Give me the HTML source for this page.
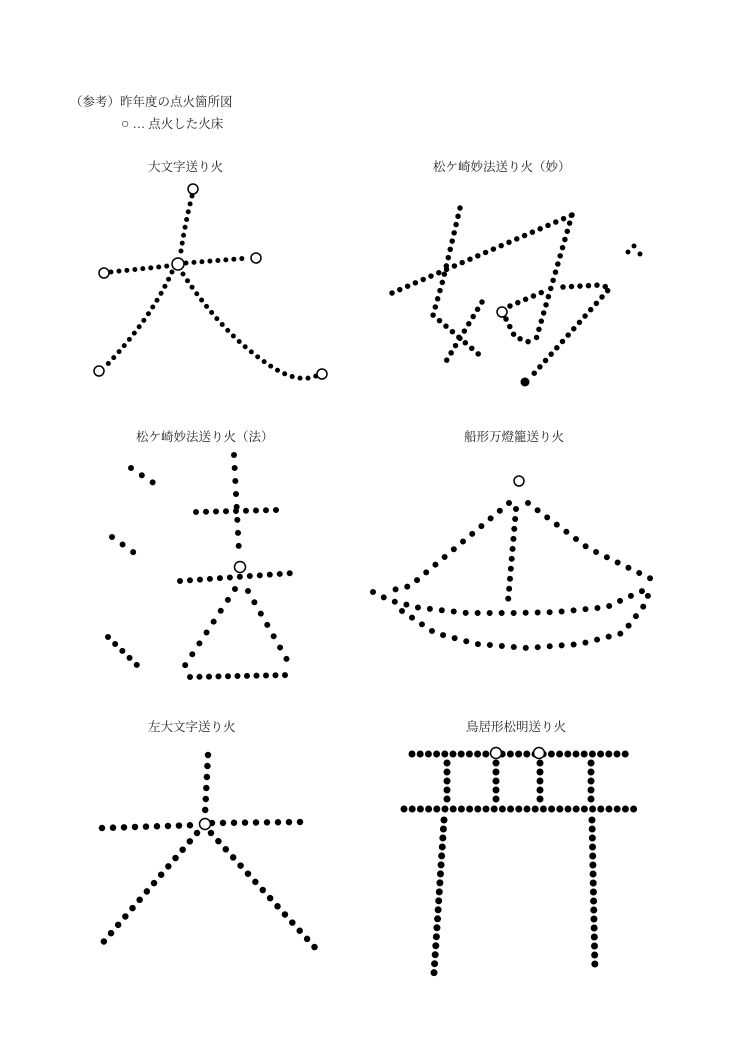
<!DOCTYPE html>
<html><head><meta charset="utf-8"><style>
html,body{margin:0;padding:0;background:#fff}
body{width:736px;height:1042px;position:relative;overflow:hidden;font-family:"Liberation Serif","Noto Serif CJK SC","Noto Sans CJK JP",serif;color:#222}
.t{position:absolute;font-size:12.5px;white-space:nowrap}
svg{position:absolute;left:0;top:0}
</style></head><body>
<div class="t" style="left:70px;top:92px;">（参考）昨年度の点火箇所図</div>
<div class="t" style="left:121px;top:114px;"><span style="font-size:14px">○</span> … 点火した火床</div>
<div class="t" style="left:148px;top:157px;">大文字送り火</div>
<div class="t" style="left:433px;top:157px;">松ケ崎妙法送り火（妙）</div>
<div class="t" style="left:136px;top:427px;">松ケ崎妙法送り火（法）</div>
<div class="t" style="left:464px;top:427px;">船形万燈籠送り火</div>
<div class="t" style="left:148px;top:717px;">左大文字送り火</div>
<div class="t" style="left:466px;top:717px;">鳥居形松明送り火</div>
<svg width="736" height="1042" viewBox="0 0 736 1042" fill="none" stroke="#000" stroke-linecap="round">
<!-- Dai -->
<g stroke-width="5" stroke-dasharray="0 8">
<path d="M192 196 Q184 228 180 258"/>
<path d="M111 272 L168 266"/>
<path d="M186 263 L249 258"/>
<path d="M172 272 Q150 320 105 367"/>
<path d="M183 274 Q220 330 262 360 Q295 385 316 376"/>
</g>
<g stroke-width="1.5" fill="#fff">
<circle cx="193" cy="189" r="5"/><circle cx="178" cy="264" r="6"/><circle cx="104" cy="273" r="5"/><circle cx="256" cy="258" r="5"/><circle cx="99" cy="371" r="5"/><circle cx="322" cy="374" r="5"/>
</g>
<!-- Myo -->
<g stroke-width="5.5" stroke-dasharray="0 8.5">
<path d="M460 208 L443 280 L433 315 L483 358"/>
<path d="M392 293 L572 215"/>
<path d="M482 302 L445 363"/>
<path d="M572 215 L535 343"/>
<path d="M506 319 L515 337 L532 343"/>
<path d="M510 306 L545 291"/>
<path d="M563 287 L600 285 L610 288 L530 378"/>
</g>
<circle cx="525" cy="382" r="4.5" fill="#000" stroke="none"/>
<circle cx="628" cy="252" r="2.5" fill="#000" stroke="none"/><circle cx="634" cy="246" r="2.5" fill="#000" stroke="none"/><circle cx="640" cy="254" r="2.5" fill="#000" stroke="none"/>
<circle cx="502" cy="312" r="5" fill="#fff" stroke-width="1.5"/>
<!-- Ho -->
<g stroke-width="6" stroke-dasharray="0 13">
<path d="M131 468 L155 484"/>
<path d="M112 537 L140 557"/>
<path d="M108 637 L139 667" stroke-dasharray="0 10"/>
<path d="M234 455 L239 552"/>
<path d="M196 512 L277 510" stroke-dasharray="0 10"/>
<path d="M180 581 L293 573" stroke-dasharray="0 10"/>
<path d="M235 589 L184 667"/>
<path d="M248 591 L290 665"/>
<path d="M190 677 L290 675" stroke-dasharray="0 9.5"/>
</g>
<circle cx="240" cy="567" r="5.5" fill="#fff" stroke-width="1.5"/>
<!-- Boat -->
<g stroke-width="6" stroke-dasharray="0 12">
<path d="M516 509 L508 602" stroke-dasharray="0 10"/>
<path d="M509 503 L410 586 L393 590"/>
<path d="M528 503 L588 548 L633 570 L660 583"/>
<path d="M373 592 L391 601 L402 603 L413 607 L467 613 L518 613 L557 612 L607 607 L637 593 L650 588"/>
<path d="M402 611 L435 633 L477 644 L527 648 L580 644 L623 633 L646 603 L650 588"/>
</g>
<circle cx="519" cy="481" r="5" fill="#fff" stroke-width="1.5"/>
<!-- Hidaridai -->
<g stroke-width="6.5" stroke-dasharray="0 11">
<path d="M208 755 L205 814"/>
<path d="M102 828 L198 825"/>
<path d="M212 823 L301 822"/>
<path d="M197 833 L100 946"/>
<path d="M211 833 L319 952"/>
</g>
<circle cx="205" cy="824" r="5.5" fill="#fff" stroke-width="1.5"/>
<!-- Torii -->
<g stroke-width="7" stroke-dasharray="0 8.2">
<path d="M412 754 L630 754"/>
<path d="M404 809 L636 809"/>
</g>
<g stroke-width="7" stroke-dasharray="0 9">
<path d="M447 763 L447 800"/><path d="M496 763 L496 800"/><path d="M540 763 L540 800"/><path d="M591 763 L591 800"/>
<path d="M444 820 L434 973"/><path d="M592 820 L595 972"/>
</g>
<circle cx="496" cy="753" r="5.5" fill="#fff" stroke-width="1.5"/><circle cx="539" cy="753" r="5.5" fill="#fff" stroke-width="1.5"/>
</svg>
</body></html>
